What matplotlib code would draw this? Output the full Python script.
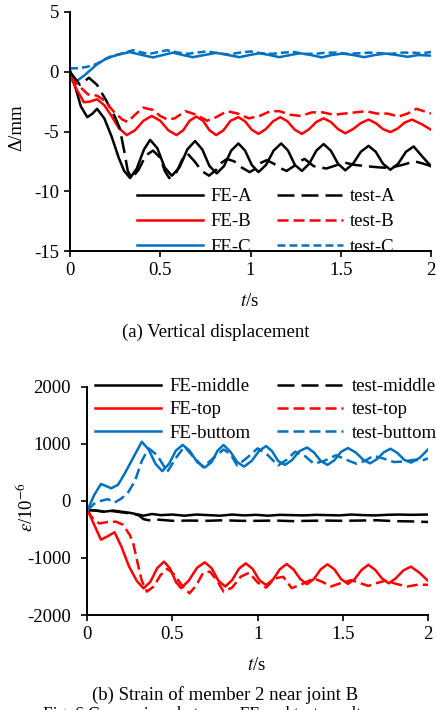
import matplotlib
matplotlib.use("Agg")
import matplotlib.pyplot as plt

plt.rcParams['font.family'] = ['Liberation Serif', 'DejaVu Serif']
plt.rcParams['mathtext.fontset'] = 'stix'
plt.rcParams['axes.unicode_minus'] = False

# ---- (a) vertical displacement, mm ----
t_fe_a = [0, 0.03, 0.06, 0.096, 0.125, 0.15, 0.19, 0.23, 0.27, 0.30, 0.333, 0.37, 0.41, 0.444,
          0.484, 0.524, 0.564, 0.607, 0.65, 0.693, 0.733, 0.773, 0.813, 0.853, 0.893, 0.933,
          0.97, 1.007, 1.044, 1.086, 1.128, 1.17, 1.208, 1.246, 1.285, 1.325, 1.365, 1.405,
          1.445, 1.485, 1.525, 1.568, 1.611, 1.654, 1.694, 1.734, 1.775, 1.818, 1.861, 1.904,
          1.952, 2.0]
v_fe_a = [0.1, -1.3, -2.9, -3.8, -3.5, -3.1, -3.9, -5.4, -7.2, -8.3, -8.9, -8.1, -6.5, -5.7,
          -6.4, -8.0, -8.7, -8.0, -6.5, -5.8, -6.5, -7.9, -8.5, -7.9, -6.6, -6.0,
          -6.6, -7.8, -8.4, -7.8, -6.6, -6.0, -6.6, -7.8, -8.3, -7.7, -6.6, -6.05,
          -6.6, -7.7, -8.25, -7.7, -6.7, -6.2, -6.7, -7.7, -8.2, -7.7, -6.7, -6.25,
          -7.1, -7.9]

t_test_a = [0, 0.03, 0.055, 0.08, 0.105, 0.15, 0.2, 0.25, 0.275, 0.3, 0.32, 0.342, 0.38, 0.42,
            0.46, 0.5, 0.525, 0.55, 0.59, 0.62, 0.648, 0.69, 0.73, 0.77, 0.81, 0.84, 0.87,
            0.91, 0.95, 0.995, 1.03, 1.06, 1.09, 1.13, 1.17, 1.2, 1.24, 1.27, 1.3, 1.35,
            1.42, 1.48, 1.52, 1.58, 1.64, 1.71, 1.77, 1.84, 1.91, 1.96, 2.0]
v_test_a = [0, -0.6, -1.1, -0.8, -0.5, -1.1, -2.4, -3.8, -4.7, -6.6, -8.3, -8.9, -8.2, -7.0,
            -6.6, -7.2, -8.3, -8.9, -8.4, -7.4, -6.8, -7.5, -8.3, -8.7, -8.2, -7.6, -7.3,
            -7.5, -8.0, -8.4, -8.1, -7.6, -7.4, -7.7, -8.1, -8.3, -7.9, -7.5, -7.3, -7.9,
            -8.1, -7.8, -7.6, -7.8, -7.9, -8.0, -8.05, -7.8, -7.5, -7.7, -7.9]

t_fe_b = [0, 0.03, 0.077, 0.11, 0.15, 0.19, 0.23, 0.27, 0.314, 0.36, 0.407, 0.453, 0.5, 0.545,
          0.59, 0.627, 0.663, 0.70, 0.737, 0.773, 0.81, 0.85, 0.89, 0.933, 0.97, 1.007, 1.044,
          1.085, 1.125, 1.165, 1.205, 1.245, 1.285, 1.325, 1.365, 1.405, 1.445, 1.485, 1.525,
          1.568, 1.611, 1.654, 1.694, 1.734, 1.775, 1.815, 1.855, 1.895, 1.95, 2.0]
v_fe_b = [-0.3, -1.3, -2.55, -2.5, -2.3, -2.8, -3.7, -4.7, -5.3, -4.9, -4.1, -3.7, -4.1, -4.9,
          -5.3, -4.9, -4.1, -3.75, -4.1, -4.9, -5.3, -4.9, -4.1, -3.8, -4.15, -4.85, -5.2,
          -4.8, -4.15, -3.8, -4.15, -4.85, -5.2, -4.8, -4.2, -3.9, -4.2, -4.8, -5.15,
          -4.8, -4.3, -4.0, -4.3, -4.8, -5.05, -4.75, -4.25, -4.0, -4.4, -4.85]

t_test_b = [0, 0.03, 0.065, 0.1, 0.15, 0.19, 0.24, 0.29, 0.32, 0.36, 0.405, 0.46, 0.5, 0.54,
            0.58, 0.64, 0.7, 0.76, 0.81, 0.87, 0.93, 0.99, 1.05, 1.11, 1.16, 1.22, 1.28, 1.34,
            1.4, 1.46, 1.52, 1.58, 1.64, 1.7, 1.76, 1.82, 1.87, 1.92, 1.96, 2.0]
v_test_b = [-0.4, -0.9, -1.4, -1.9, -2.0, -2.4, -3.3, -4.0, -4.2, -3.6, -3.0, -3.2, -3.7, -4.0,
            -3.9, -3.3, -3.6, -4.1, -3.8, -3.3, -3.5, -3.9, -3.7, -3.3, -3.3, -3.6, -3.7, -3.4,
            -3.4, -3.6, -3.5, -3.4, -3.3, -3.5, -3.5, -3.75, -3.5, -3.1, -3.3, -3.5]

t_fe_c = [0, 0.037, 0.08, 0.148, 0.2, 0.26, 0.33, 0.4, 0.46, 0.515, 0.57, 0.625, 0.68, 0.745,
          0.81, 0.875, 0.94, 0.995, 1.05, 1.105, 1.16, 1.22, 1.275, 1.335, 1.395, 1.45, 1.51,
          1.57, 1.63, 1.69, 1.75, 1.81, 1.87, 1.93, 2.0]
v_fe_c = [-0.7, -0.78, -0.3, 0.6, 1.1, 1.4, 1.65, 1.4, 1.2, 1.4, 1.6, 1.4, 1.22, 1.4,
          1.58, 1.4, 1.22, 1.4, 1.55, 1.4, 1.22, 1.4, 1.55, 1.4, 1.2, 1.4, 1.52, 1.4,
          1.22, 1.4, 1.52, 1.4, 1.25, 1.4, 1.35]

t_test_c = [0, 0.05, 0.09, 0.13, 0.166, 0.22, 0.28, 0.35, 0.4, 0.44, 0.49, 0.536, 0.6, 0.65,
            0.7, 0.76, 0.82, 0.88, 0.94, 1.0, 1.06, 1.12, 1.18, 1.24, 1.3, 1.36, 1.42, 1.48,
            1.54, 1.6, 1.66, 1.72, 1.78, 1.84, 1.9, 1.95, 2.0]
v_test_c = [0.28, 0.3, 0.4, 0.55, 0.8, 1.25, 1.5, 1.8, 1.6, 1.5, 1.65, 1.8, 1.6, 1.5,
            1.6, 1.7, 1.55, 1.45, 1.6, 1.7, 1.55, 1.5, 1.6, 1.65, 1.5, 1.5, 1.6, 1.6,
            1.5, 1.55, 1.6, 1.55, 1.5, 1.6, 1.6, 1.55, 1.65]

# ---- (b) strain, 1e-6 ----
t_fe_mid = [0, 0.05, 0.1, 0.15, 0.2, 0.25, 0.3, 0.33, 0.38, 0.43, 0.5, 0.57, 0.64, 0.71, 0.78,
            0.85, 0.92, 0.99, 1.06, 1.13, 1.2, 1.27, 1.34, 1.41, 1.48, 1.55, 1.62, 1.69, 1.76,
            1.83, 1.9, 2.0]
v_fe_mid = [-160, -170, -190, -170, -190, -210, -240, -260, -230, -250, -240, -260, -240, -250,
            -260, -240, -255, -245, -260, -245, -250, -255, -245, -250, -255, -240, -250, -255,
            -245, -240, -245, -240]

t_test_mid = [0, 0.05, 0.1, 0.15, 0.2, 0.25, 0.3, 0.33, 0.36, 0.42, 0.5, 0.6, 0.7, 0.8, 0.9,
              1.0, 1.1, 1.2, 1.3, 1.4, 1.5, 1.6, 1.7, 1.8, 1.9, 2.0]
v_test_mid = [-160, -170, -190, -180, -200, -220, -250, -320, -340, -330, -350, -345, -350,
              -340, -350, -350, -345, -355, -350, -345, -350, -345, -340, -355, -360, -370]

t_fe_top = [0, 0.03, 0.08, 0.12, 0.16, 0.2, 0.245, 0.29, 0.33, 0.37, 0.41, 0.45, 0.485, 0.52,
            0.55, 0.595, 0.645, 0.69, 0.73, 0.77, 0.81, 0.85, 0.89, 0.93, 0.97, 1.01, 1.05,
            1.09, 1.13, 1.17, 1.21, 1.25, 1.29, 1.33, 1.37, 1.41, 1.45, 1.49, 1.53, 1.57,
            1.61, 1.65, 1.69, 1.73, 1.77, 1.81, 1.855, 1.9, 1.95, 2.0]
v_fe_top = [-150, -350, -680, -620, -550, -800, -1150, -1400, -1533, -1420, -1180, -1065,
            -1180, -1420, -1530, -1400, -1170, -1077, -1180, -1400, -1500, -1390, -1190,
            -1095, -1190, -1390, -1475, -1380, -1200, -1107, -1200, -1370, -1460, -1370,
            -1200, -1112, -1200, -1370, -1455, -1370, -1210, -1120, -1210, -1360, -1445,
            -1360, -1220, -1153, -1260, -1400]

t_test_top = [0, 0.03, 0.07, 0.12, 0.17, 0.21, 0.25, 0.27, 0.3, 0.32, 0.35, 0.39, 0.43, 0.47,
              0.51, 0.56, 0.6, 0.64, 0.68, 0.72, 0.76, 0.8, 0.85, 0.9, 0.95, 1.0, 1.05, 1.1,
              1.15, 1.2, 1.26, 1.33, 1.38, 1.43, 1.49, 1.55, 1.6, 1.65, 1.7, 1.75, 1.82, 1.88,
              1.94, 2.0]
v_test_top = [-160, -300, -395, -370, -365, -420, -600, -750, -1150, -1400, -1590, -1500,
              -1300, -1190, -1290, -1500, -1620, -1480, -1260, -1240, -1390, -1590, -1520,
              -1330, -1260, -1430, -1520, -1360, -1330, -1530, -1460, -1360, -1420, -1500,
              -1440, -1390, -1440, -1490, -1440, -1400, -1460, -1500, -1470, -1470]

t_fe_bot = [0, 0.04, 0.08, 0.11, 0.14, 0.18, 0.22, 0.27, 0.32, 0.36, 0.4, 0.44, 0.48, 0.52,
            0.56, 0.6, 0.645, 0.69, 0.73, 0.765, 0.8, 0.84, 0.88, 0.92, 0.965, 1.01, 1.05,
            1.085, 1.12, 1.16, 1.2, 1.245, 1.29, 1.33, 1.37, 1.41, 1.45, 1.49, 1.53, 1.575,
            1.62, 1.66, 1.7, 1.74, 1.78, 1.82, 1.86, 1.9, 1.95, 2.0]
v_fe_bot = [-170, 100, 295, 260, 220, 280, 480, 760, 1035, 900, 650, 520, 650, 880, 980, 880,
            680, 585, 680, 880, 980, 860, 680, 600, 700, 880, 960, 870, 700, 630, 710, 870,
            935, 850, 700, 630, 710, 860, 925, 850, 720, 657, 730, 850, 913, 840, 720, 670,
            750, 900]

t_test_bot = [0, 0.04, 0.08, 0.12, 0.16, 0.2, 0.24, 0.28, 0.32, 0.36, 0.41, 0.47, 0.52, 0.57,
              0.62, 0.68, 0.74, 0.8, 0.84, 0.88, 0.94, 1.0, 1.06, 1.12, 1.17, 1.22, 1.28,
              1.33, 1.39, 1.46, 1.52, 1.58, 1.63, 1.68, 1.74, 1.8, 1.86, 1.92, 1.96, 2.0]
v_test_bot = [-170, -50, 0, 30, -30, 40, 150, 350, 700, 920, 800, 510, 750, 950, 780, 590,
              750, 900, 820, 620, 760, 920, 800, 620, 720, 860, 780, 650, 700, 800, 720, 650,
              700, 790, 740, 680, 690, 720, 700, 745]

x_ticks = [0, 0.5, 1, 1.5, 2]
x_labels = ['0', '0.5', '1', '1.5', '2']

RED = '#FF0000'
BLUE = '#0070C0'
FS = 13.5
W, H = 436, 710


def style(ax):
    for s in ['top', 'right']:
        ax.spines[s].set_visible(False)
    for s in ['left', 'bottom']:
        ax.spines[s].set_linewidth(1.4)
    ax.tick_params(direction='out', length=4, width=1.2, labelsize=FS, pad=4)
    ax.set_xlim(0, 2)
    ax.set_xticks(x_ticks)
    ax.set_xticklabels(x_labels)
    ax.set_facecolor('none')


fig = plt.figure(figsize=(W / 100, H / 100), dpi=100)

# top chart
ax1 = fig.add_axes([70 / W, 1 - 251 / H, 361 / W, 239 / H])
style(ax1)
lw = 1.8
ax1.plot(t_fe_a, v_fe_a, color='black', lw=lw, label='FE-A')
ax1.plot(t_fe_b, v_fe_b, color=RED, lw=lw, label='FE-B')
ax1.plot(t_fe_c, v_fe_c, color=BLUE, lw=lw, label='FE-C')
ax1.plot(t_test_a, v_test_a, color='black', lw=lw, dashes=(6.8, 2.8), label='test-A')
ax1.plot(t_test_b, v_test_b, color=RED, lw=lw, dashes=(4.4, 2.0), label='test-B')
ax1.plot(t_test_c, v_test_c, color=BLUE, lw=lw, dashes=(3.2, 1.6), label='test-C')
ax1.set_ylim(-15, 5)
ax1.set_yticks([-15, -10, -5, 0, 5])
ax1.legend(loc='upper left', bbox_to_anchor=(137 / W, 1 - 188 / H), bbox_transform=fig.transFigure,
           ncol=2, frameon=False, fontsize=FS, handlelength=3.5, handletextpad=0.4,
           columnspacing=1.35, labelspacing=0.43, borderpad=0, borderaxespad=0)
fig.text(17 / W, 1 - 128 / H, 'Δ/mm', rotation=90, ha='center', va='center', fontsize=FS)
fig.text(250 / W, 1 - 302 / H, '$t$/s', ha='center', va='center', fontsize=FS)
fig.text(216 / W, 1 - 332 / H, '(a) Vertical displacement', ha='center', va='center', fontsize=FS)

# bottom chart
ax2 = fig.add_axes([87.3 / W, 1 - 615 / H, 340.7 / W, 228.3 / H])
style(ax2)
ax2.plot(t_fe_mid, v_fe_mid, color='black', lw=lw, label='FE-middle')
ax2.plot(t_fe_top, v_fe_top, color=RED, lw=lw, label='FE-top')
ax2.plot(t_fe_bot, v_fe_bot, color=BLUE, lw=lw, label='FE-buttom')
ax2.plot(t_test_mid, v_test_mid, color='black', lw=lw, dashes=(6.8, 2.8), label='test-middle')
ax2.plot(t_test_top, v_test_top, color=RED, lw=lw, dashes=(4.4, 2.0), label='test-top')
ax2.plot(t_test_bot, v_test_bot, color=BLUE, lw=lw, dashes=(4.4, 2.0), label='test-buttom')
ax2.set_ylim(-2000, 2000)
ax2.set_yticks([-2000, -1000, 0, 1000, 2000])
ax2.tick_params(axis='y', pad=8)
ax2.legend(loc='upper left', bbox_to_anchor=(95 / W, 1 - 378 / H), bbox_transform=fig.transFigure,
           ncol=2, frameon=False, fontsize=FS, handlelength=3.5, handletextpad=0.45,
           columnspacing=1.45, labelspacing=0.33, borderpad=0, borderaxespad=0)
fig.text(26 / W, 1 - 507 / H, r'$\varepsilon$/10$^{-6}$', rotation=90, ha='center', va='center',
         fontsize=FS)
fig.text(257 / W, 1 - 665 / H, '$t$/s', ha='center', va='center', fontsize=FS)
fig.text(225 / W, 1 - 695 / H, '(b) Strain of member 2 near joint B', ha='center', va='center',
         fontsize=FS)
fig.text(205 / W, 1 - 706 / H, 'Fig. 6 Comparison between FE and test results', ha='center',
         va='top', fontsize=12.5)

fig.savefig('out.png', dpi=100)
